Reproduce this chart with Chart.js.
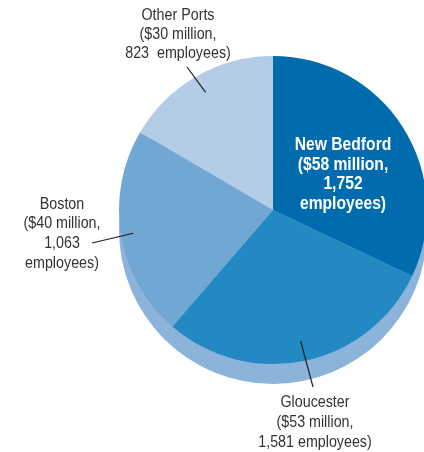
<!DOCTYPE html>
<html>
<head>
<meta charset="utf-8">
<script src="https://cdn.jsdelivr.net/npm/chart.js@4/dist/chart.umd.min.js"></script>
<style>
html,body{margin:0;padding:0;background:#fff;overflow:hidden;width:424px;height:452px;}
#wrap{position:relative;width:440px;height:452px;}
</style>
</head>
<body>
<div id="wrap"><canvas id="c" width="440" height="452"></canvas></div>
<script>
// Data
const ports = ["New Bedford", "Gloucester", "Boston", "Other Ports"];
const revenueMillions = [58, 53, 40, 30];
const employees = ["1,752", "1,581", "1,063", "823"];
const sliceColors = ["#006cad", "#2289c2", "#71a7d3", "#b3cde6"];

// Label text blocks
const labelLines = [
  ["New Bedford", "($58 million,", "1,752", "employees)"],
  ["Gloucester", "($53 million,", "1,581 employees)"],
  ["Boston", "($40 million,", "1,063", "employees)"],
  ["Other Ports", "($30 million,", "823  employees)"]
];

const FONT = '"Liberation Sans", Arial, sans-serif';

const shadowPlugin = {
  id: 'shadow',
  beforeDatasetsDraw(chart) {
    const arc = chart.getDatasetMeta(0).data[0];
    if (!arc) return;
    const ctx = chart.ctx;
    ctx.save();
    ctx.fillStyle = '#8cb3d9';
    ctx.beginPath();
    ctx.arc(arc.x, arc.y + 20, arc.outerRadius, 0, Math.PI * 2);
    ctx.fill();
    ctx.restore();
  }
};

const labelLayout = [
  {x: 343, y: 145, gap: 19.7, color: '#ffffff', bold: true, size: 18, sx: 0.87, leader: null},
  {x: 315, y: 402, gap: 20, color: '#333333', bold: false, size: 17, sx: 0.84, leader: [313, 387], frac: 0.87},
  {x: 62, y: 204, gap: 19.7, color: '#333333', bold: false, size: 17, sx: 0.84, leader: [92, 243], frac: 0.92},
  {x: 178, y: 15, gap: 19, color: '#333333', bold: false, size: 17, sx: 0.84, leader: [187, 67], frac: 0.88}
];

const labelPlugin = {
  id: 'labels',
  afterDatasetsDraw(chart) {
    const ctx = chart.ctx;
    const meta = chart.getDatasetMeta(0);
    meta.data.forEach((arc, i) => {
      const L = labelLayout[i];
      ctx.save();
      if (L.leader) {
        const mid = (arc.startAngle + arc.endAngle) / 2;
        const r = arc.outerRadius * L.frac;
        const ix = arc.x + Math.cos(mid) * r;
        const iy = arc.y + Math.sin(mid) * r;
        ctx.strokeStyle = '#1e1e1e';
        ctx.lineWidth = 1.2;
        ctx.beginPath();
        ctx.moveTo(L.leader[0], L.leader[1]);
        ctx.lineTo(ix, iy);
        ctx.stroke();
      }
      ctx.fillStyle = L.color;
      ctx.font = (L.bold ? 'bold ' : '') + L.size + 'px ' + FONT;
      ctx.textAlign = 'center';
      ctx.textBaseline = 'middle';
      ctx.translate(L.x, 0);
      ctx.scale(L.sx, 1);
      labelLines[i].forEach((t, k) => {
        ctx.fillText(t, 0, L.y + k * L.gap);
      });
      ctx.restore();
    });
  }
};

new Chart(document.getElementById('c'), {
  type: 'pie',
  data: {
    labels: ports,
    datasets: [{
      data: revenueMillions,
      backgroundColor: sliceColors,
      borderWidth: 0,
      hoverOffset: 0,
      offset: 0
    }]
  },
  options: {
    responsive: false,
    animation: false,
    events: [],
    layout: {padding: {left: 119, right: 13, top: 56, bottom: 88}},
    plugins: {legend: {display: false}, tooltip: {enabled: false}}
  },
  plugins: [shadowPlugin, labelPlugin]
});
</script>
</body>
</html>
